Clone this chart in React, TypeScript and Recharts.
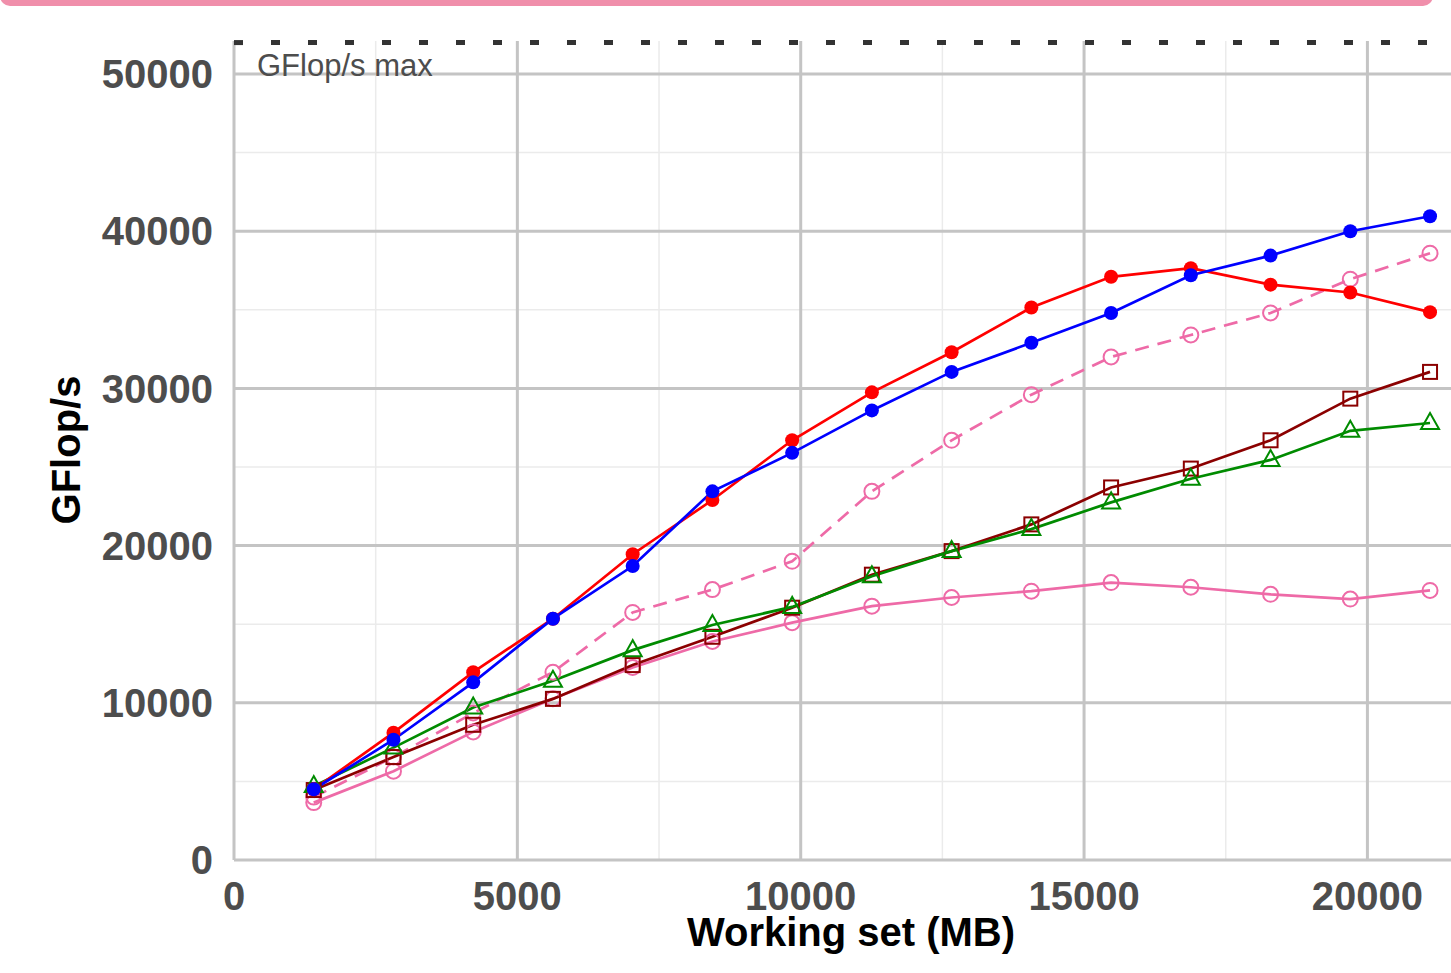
import React from "react";
import {
  LineChart,
  Line,
  XAxis,
  YAxis,
  CartesianGrid,
  ReferenceLine,
  Label,
} from "recharts";

const FONT = "'Liberation Sans', Arial, Helvetica, sans-serif";

// working set sizes (MB)
const workingSet = [
  1407, 2814, 4221, 5628, 7035, 8442, 9849, 11256, 12663, 14070, 15477, 16884,
  18291, 19698, 21105,
];

// GFlop/s per variant
const redFilled = [
  4500, 8100, 11950, 15350, 19450, 22900, 26700, 29750, 32300, 35150, 37100,
  37650, 36600, 36100, 34850,
];
const blueFilled = [
  4500, 7650, 11300, 15350, 18700, 23450, 25900, 28600, 31050, 32900, 34800,
  37200, 38450, 40000, 40950,
];
const pinkDashed = [
  4000, 6550, 9350, 11950, 15750, 17200, 19000, 23450, 26700, 29600, 32000,
  33400, 34800, 36950, 38600,
];
const darkRedSquares = [
  4450, 6550, 8600, 10250, 12400, 14200, 16050, 18150, 19650, 21350, 23700,
  24900, 26700, 29350, 31050,
];
const greenTriangles = [
  4700, 7150, 9700, 11400, 13350, 14950, 16100, 18050, 19650, 21050, 22750,
  24250, 25450, 27300, 27800,
];
const pinkSolid = [
  3650, 5650, 8150, 10250, 12250, 13900, 15100, 16150, 16700, 17100, 17650,
  17350, 16900, 16600, 17150,
];

const peakGflops = 52000;

const xTicks = [0, 5000, 10000, 15000, 20000];
const yTicks = [0, 10000, 20000, 30000, 40000, 50000];
const xMinor = [2500, 7500, 12500, 17500];
const yMinor = [5000, 15000, 25000, 35000, 45000];

const data = workingSet.map((x, i) => ({
  x,
  red: redFilled[i],
  blue: blueFilled[i],
  pinkDash: pinkDashed[i],
  darkred: darkRedSquares[i],
  green: greenTriangles[i],
  pink: pinkSolid[i],
}));

const PINK = "#EE6AA7";
const LW = 2.7;

type Shape = "filled" | "circle" | "square" | "triangle";

function makeDot(shape: Shape, color: string) {
  return (props: any) => {
    const { cx, cy, index } = props;
    const key = `${shape}-${color}-${index}`;
    if (cx == null || cy == null) return <g key={key} />;
    if (shape === "filled")
      return <circle key={key} cx={cx} cy={cy} r={7} fill={color} stroke="none" />;
    if (shape === "circle")
      return (
        <circle key={key} cx={cx} cy={cy} r={7.5} fill="none" stroke={color} strokeWidth={2} />
      );
    if (shape === "square")
      return (
        <rect
          key={key}
          x={cx - 7}
          y={cy - 7}
          width={14}
          height={14}
          fill="none"
          stroke={color}
          strokeWidth={2}
        />
      );
    return (
      <path
        key={key}
        d={`M${cx},${cy - 10} L${cx - 9},${cy + 6} L${cx + 9},${cy + 6} Z`}
        fill="none"
        stroke={color}
        strokeWidth={2}
      />
    );
  };
}

const tickStyle = {
  fontSize: 40,
  fontWeight: "bold" as const,
  fill: "#4d4d4d",
  fontFamily: FONT,
};

export default function App() {
  return (
    <div
      style={{
        position: "absolute",
        left: 0,
        top: 0,
        width: 1451,
        height: 973,
        overflow: "hidden",
        background: "#fff",
        fontFamily: FONT,
      }}
    >
      <div
        style={{
          position: "absolute",
          left: 0,
          top: -14,
          width: 1433,
          height: 20,
          borderRadius: 10,
          background: "#F08FAB",
        }}
      />
      <LineChart
        width={1451}
        height={973}
        data={data}
        margin={{ top: 41, right: 0, bottom: 0, left: 0 }}
      >
        <CartesianGrid
          verticalValues={xMinor}
          horizontalValues={yMinor}
          stroke="#ebebeb"
          strokeWidth={1.5}
        />
        <CartesianGrid
          verticalValues={xTicks}
          horizontalValues={yTicks}
          stroke="#c4c4c4"
          strokeWidth={3}
        />
        <XAxis
          type="number"
          dataKey="x"
          domain={[0, 21475]}
          ticks={xTicks}
          interval={0}
          allowDataOverflow
          axisLine={false}
          tickLine={false}
          tickSize={0}
          tickMargin={22}
          height={113}
          tick={tickStyle}
        >
          <Label
            content={() => (
              <text
                x={851}
                y={946}
                textAnchor="middle"
                fontSize={40}
                fontWeight="bold"
                fill="#000"
                fontFamily={FONT}
              >
                Working set (MB)
              </text>
            )}
          />
        </XAxis>
        <YAxis
          type="number"
          domain={[0, 52100]}
          ticks={yTicks}
          interval={0}
          allowDataOverflow
          axisLine={false}
          tickLine={false}
          tickSize={0}
          tickMargin={21}
          width={234}
          tick={tickStyle}
        >
          <Label
            content={() => (
              <text
                transform="translate(80, 450) rotate(-90)"
                textAnchor="middle"
                fontSize={40}
                fontWeight="bold"
                fill="#000"
                fontFamily={FONT}
              >
                GFlop/s
              </text>
            )}
          />
        </YAxis>
        <ReferenceLine
          y={peakGflops}
          stroke="#333"
          strokeWidth={5}
          strokeDasharray="9 28"
          label={{
            content: (p: any) => {
              const vb = p.viewBox || { x: 234, y: 42 };
              return (
                <text
                  x={vb.x + 23}
                  y={vb.y + 33}
                  fontSize={31}
                  fill="#4d4d4d"
                  fontFamily={FONT}
                >
                  GFlop/s max
                </text>
              );
            },
          }}
        />
        <Line
          dataKey="pink"
          stroke={PINK}
          strokeWidth={LW}
          dot={makeDot("circle", PINK)}
          activeDot={false}
          isAnimationActive={false}
        />
        <Line
          dataKey="pinkDash"
          stroke={PINK}
          strokeWidth={LW}
          strokeDasharray="14 9"
          dot={makeDot("circle", PINK)}
          activeDot={false}
          isAnimationActive={false}
        />
        <Line
          dataKey="darkred"
          stroke="#8B0000"
          strokeWidth={LW}
          dot={makeDot("square", "#8B0000")}
          activeDot={false}
          isAnimationActive={false}
        />
        <Line
          dataKey="green"
          stroke="#008B00"
          strokeWidth={LW}
          dot={makeDot("triangle", "#008B00")}
          activeDot={false}
          isAnimationActive={false}
        />
        <Line
          dataKey="red"
          stroke="#FF0000"
          strokeWidth={LW}
          dot={makeDot("filled", "#FF0000")}
          activeDot={false}
          isAnimationActive={false}
        />
        <Line
          dataKey="blue"
          stroke="#0000FF"
          strokeWidth={LW}
          dot={makeDot("filled", "#0000FF")}
          activeDot={false}
          isAnimationActive={false}
        />
      </LineChart>
    </div>
  );
}
